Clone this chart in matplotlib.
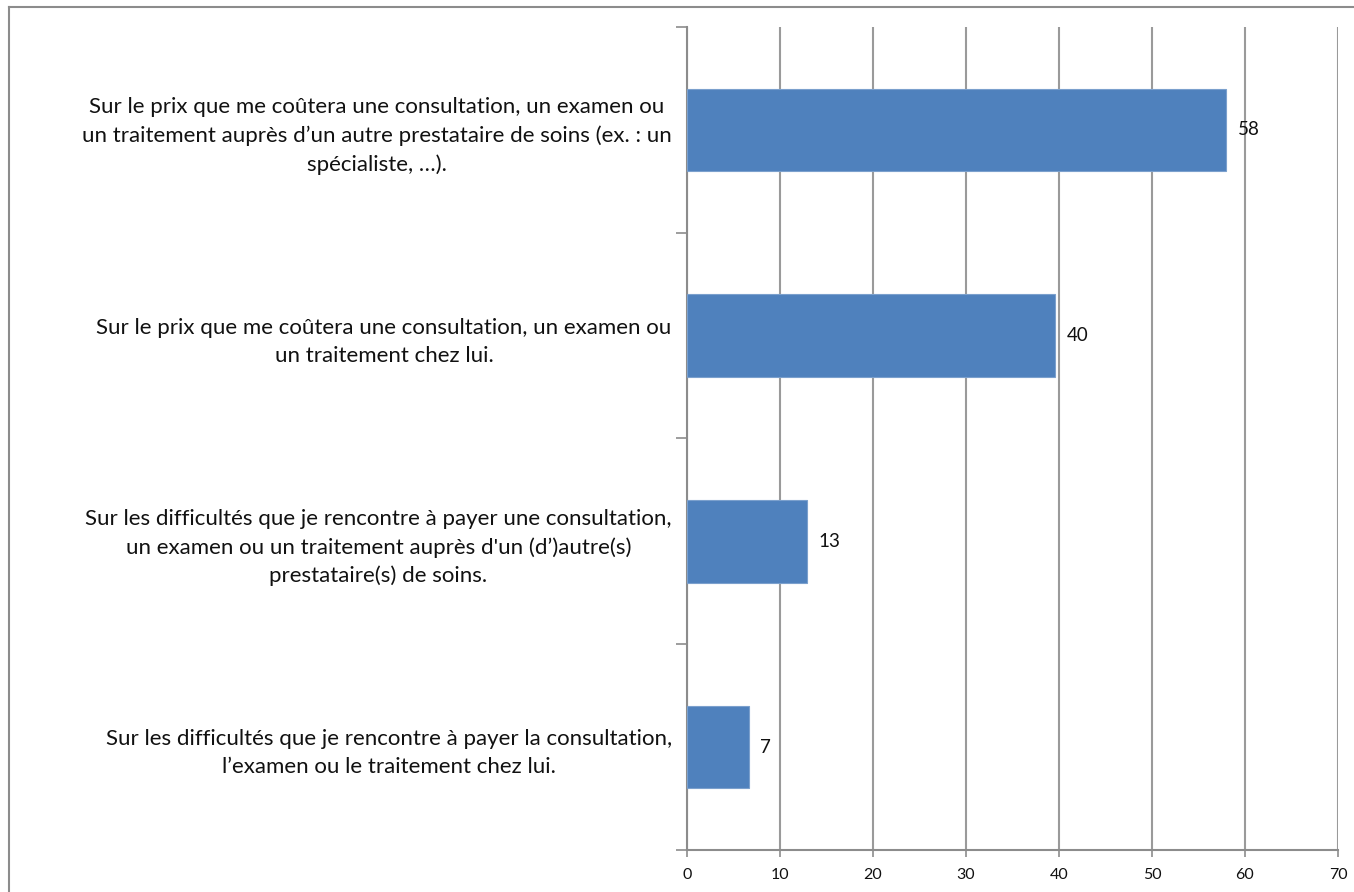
import matplotlib.pyplot as plt
from matplotlib.lines import Line2D

# Data
categories = [
    "Sur le prix que me coûtera une consultation, un examen ou\nun traitement auprès d’un autre prestataire de soins (ex. : un\nspécialiste, …).",
    "Sur le prix que me coûtera une consultation, un examen ou\nun traitement chez lui.",
    "Sur les difficultés que je rencontre à payer une consultation,\nun examen ou un traitement auprès d'un (d’)autre(s)\nprestataire(s) de soins.",
    "Sur les difficultés que je rencontre à payer la consultation,\nl’examen ou le traitement chez lui.",
]
values = [58.0, 39.6, 12.9, 6.7]
x_ticks = [0, 10, 20, 30, 40, 50, 60, 70]

plt.rcParams['font.family'] = ['Lato', 'DejaVu Sans']

fig = plt.figure(figsize=(13.54, 8.92), dpi=100)
ax = fig.add_axes([687 / 1354, 1 - 850 / 892, (1338 - 687) / 1354, (850 - 27) / 892])

ypos = list(range(len(categories)))
ax.barh(ypos, values, height=0.4, color='#4F81BD', edgecolor='#7BA0CD', linewidth=0.8, zorder=3)

# value labels
for y, v in zip(ypos, values):
    ax.text(v + 1.2, y, f"{round(v)}", va='center', ha='left', fontsize=13.5, color='#111111')

ax.set_xlim(0, 70)
ax.set_ylim(len(categories) - 0.5, -0.5)
ax.set_xticks(x_ticks)
ax.set_xticklabels([str(t) for t in x_ticks], fontsize=11.5, color='#111111')
ax.tick_params(axis='x', direction='out', length=5, width=1.2, color='#8c8c8c', pad=8)

# category boundaries as ticks, labels as minor ticks
ax.set_yticks([i - 0.5 for i in range(len(categories) + 1)])
ax.set_yticklabels([])
ax.tick_params(axis='y', which='major', direction='out', length=8, width=1.2, color='#8c8c8c')
ax.set_yticks(ypos, minor=True)
ax.set_yticklabels(categories, minor=True, fontsize=16, color='#111111',
                   multialignment='center', linespacing=1.5)
ax.tick_params(axis='y', which='minor', length=0, pad=11)

ax.grid(axis='x', color='#9a9a9a', linewidth=1.5, zorder=0)
for side in ['top', 'right']:
    ax.spines[side].set_visible(False)
for side in ['left', 'bottom']:
    ax.spines[side].set_color('#8c8c8c')
    ax.spines[side].set_linewidth(1.5)

# outer frame (top and left edges visible)
fig.add_artist(Line2D([9 / 1354, 1], [1 - 7 / 892, 1 - 7 / 892], color='#8c8c8c', linewidth=1.5))
fig.add_artist(Line2D([9 / 1354, 9 / 1354], [0, 1 - 7 / 892], color='#8c8c8c', linewidth=1.5))

fig.savefig('out.png', dpi=100)
